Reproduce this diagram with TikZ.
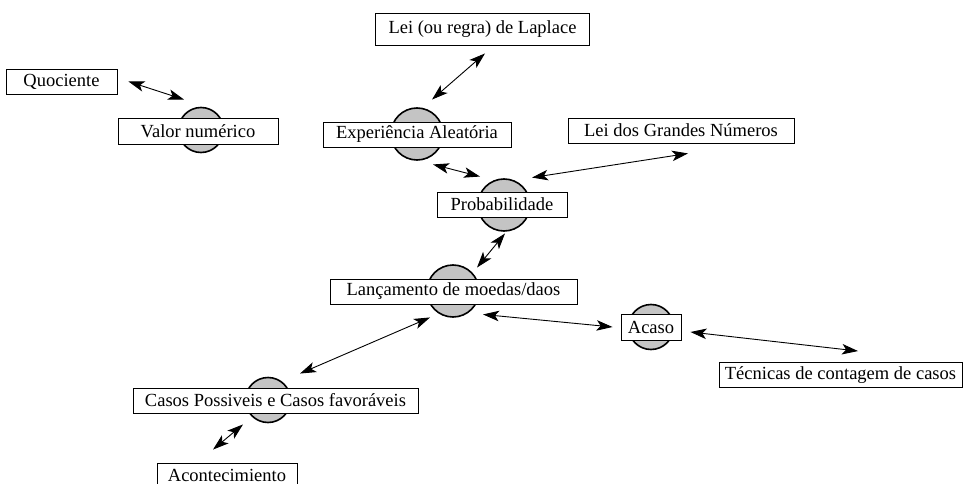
\documentclass[tikz,border=0pt]{standalone}
\usepackage{fontspec}
\setmainfont{Liberation Serif}
\usetikzlibrary{arrows.meta}

\begin{document}
\begin{tikzpicture}[
x=1pt, y=-1pt,
concept/.style={draw=black, fill=white, line width=.9pt, inner sep=0pt, minimum height=25pt, font=\fontsize{18.5}{20}\selectfont},
disc/.style={fill=black!23, draw=black, line width=1.6pt},
tip/.tip={Stealth[length=16pt, width=10.5pt, inset=4pt]},
link/.style={tip-tip, line width=.9pt}
]

%% Box
\useasboundingbox (0,0) rectangle (963,484);

\def\rs{22.5}	% radius of small disc
\def\rl{26}	% radius of large disc

%% Discs behind the concepts
\foreach \x/\y/\rad in {201/130/\rs, 417/134/\rl, 504/205/\rl, 453/291/\rl, 651/327/\rs, 268/400/\rs}{
\draw[disc] (\x,\y) circle(\rad pt);
}

%% Concepts
\node[concept, minimum width=111pt] (quoc) at (61.5,81.5) {Quociente};
\node[concept, minimum width=160pt, minimum height=26pt] (valor) at (198,131) {Valor numérico};
\node[concept, minimum width=214pt, minimum height=32pt] (laplace) at (482.5,29) {Lei (ou regra) de Laplace};
\node[concept, minimum width=188pt] (exper) at (417,134.5) {Experiência Aleatória};
\node[concept, minimum width=130pt] (prob) at (502,204.5) {Probabilidade};
\node[concept, minimum width=226pt] (lgn) at (681,130.5) {Lei dos Grandes Números};
\node[concept, minimum width=247pt] (lanc) at (453.5,291.5) {Lançamento de moedas/daos};
\node[concept, minimum width=60pt, minimum height=26pt] (acaso) at (651,327) {Acaso};
\node[concept, minimum width=243pt] (tecn) at (840.5,375) {Técnicas de contagem de casos};
\node[concept, minimum width=285pt] (casos) at (275.5,400.5) {Casos Possiveis e Casos favoráveis};
\node[concept, minimum width=140pt] (acont) at (227,475.5) {Acontecimiento};

%% Links
\draw[link] ([shift={(11,0)}]quoc.east) -- ([shift={(-14,-18)}]valor.north);
\draw[link] ([shift={(2.5,8)}]laplace.south) -- ([shift={(15,-22)}]exper.north);
\draw[link] ([shift={(16,17)}]exper.south) -- ([shift={(-22,-15)}]prob.north);
\draw[link] ([shift={(7,10)}]lgn.south) -- ([shift={(30,-14)}]prob.north);
\draw[link] ([shift={(3,16)}]prob.south) -- ([shift={(23.5,-11)}]lanc.north);
\draw[link] ([shift={(29.5,10)}]lanc.south) -- ([shift={(-8,0)}]acaso.west);
\draw[link] ([shift={(9,5)}]acaso.east) -- ([shift={(17.5,-11)}]tecn.north);
\draw[link] ([shift={(-23.5,13)}]lanc.south) -- ([shift={(24.5,-14)}]casos.north);
\draw[link] ([shift={(-32.5,11)}]casos.south) -- ([shift={(-14,-13)}]acont.north);

\end{tikzpicture}
\end{document}
